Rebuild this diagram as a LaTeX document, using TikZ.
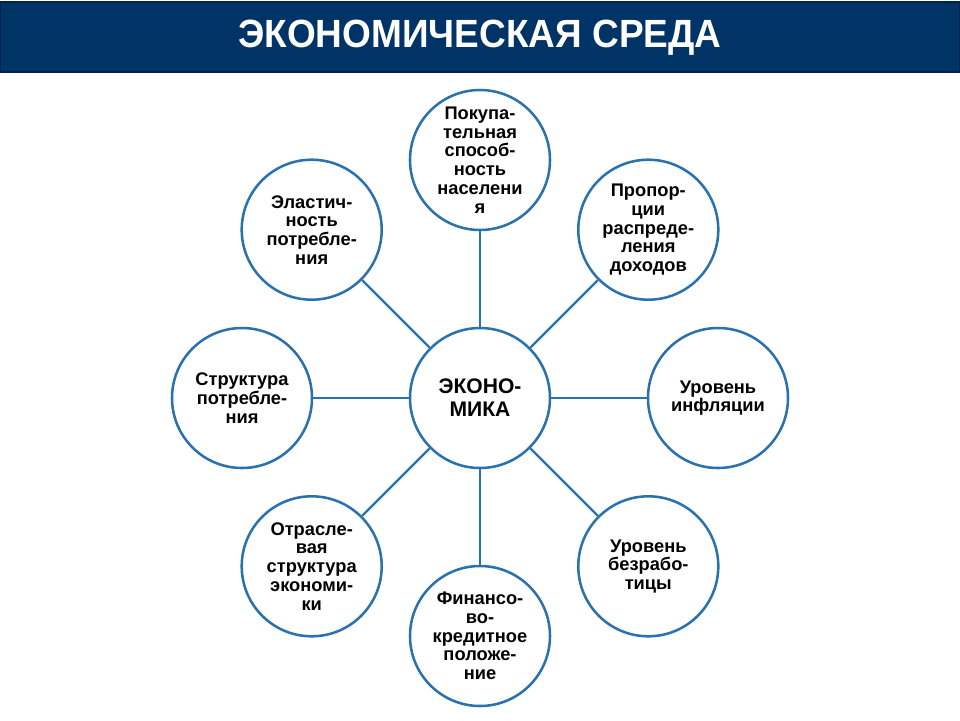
\documentclass[tikz,border=0pt]{standalone}
\usepackage{fontspec}
\setmainfont{Liberation Sans}
\usepackage{xcolor}
\usepackage{tikz}
\usetikzlibrary{positioning,calc}
\definecolor{navy}{HTML}{003366}
\definecolor{ringblue}{HTML}{2A72AE}
\tikzset{
  ring/.style={draw=ringblue,line width=1.8pt,circle,fill=white,minimum size=3.5cm,inner sep=0pt,align=center,font=\bfseries\fontsize{13}{13.3}\selectfont},
  spoke/.style={draw=ringblue,line width=1.6pt}
}

\begin{document}
\begin{tikzpicture}
\useasboundingbox (-12,-8.05) rectangle (12,9.95);
\fill[navy] (-12,8.15) rectangle (12,9.9);
\draw[navy!70!black,line width=0.8pt] (-12,8.15) rectangle (12,9.9);
\node[text=white,font=\bfseries\fontsize{28}{30}\selectfont] (title) at (0,9.02) {\scalebox{0.94}[1]{ЭКОНОМИЧЕСКАЯ СРЕДА}};
\node[ring,font=\bfseries\fontsize{15}{16.5}\selectfont] (eco) at (0,0) {ЭКОНО-\\МИКА};
\foreach \a/\n/\t in {90/top/Покупа-\\тельная\\способ-\\ность\\населени\\я,45/topright/Пропор-\\ции\\распреде-\\ления\\доходов,0/right/Уровень\\инфляции,-45/botright/Уровень\\безрабо-\\тицы,-90/bot/Финансо-\\во-\\кредитное\\положе-\\ние,-135/botleft/Отрасле-\\вая\\структура\\экономи-\\ки,180/left/Структура\\потребле-\\ния,135/topleft/Эластич-\\ность\\потребле-\\ния} {
  \node[ring] (\n) at (\a:5.95cm) {\t};
  \draw[spoke] (eco) -- (\n);
}
\end{tikzpicture}
\end{document}
